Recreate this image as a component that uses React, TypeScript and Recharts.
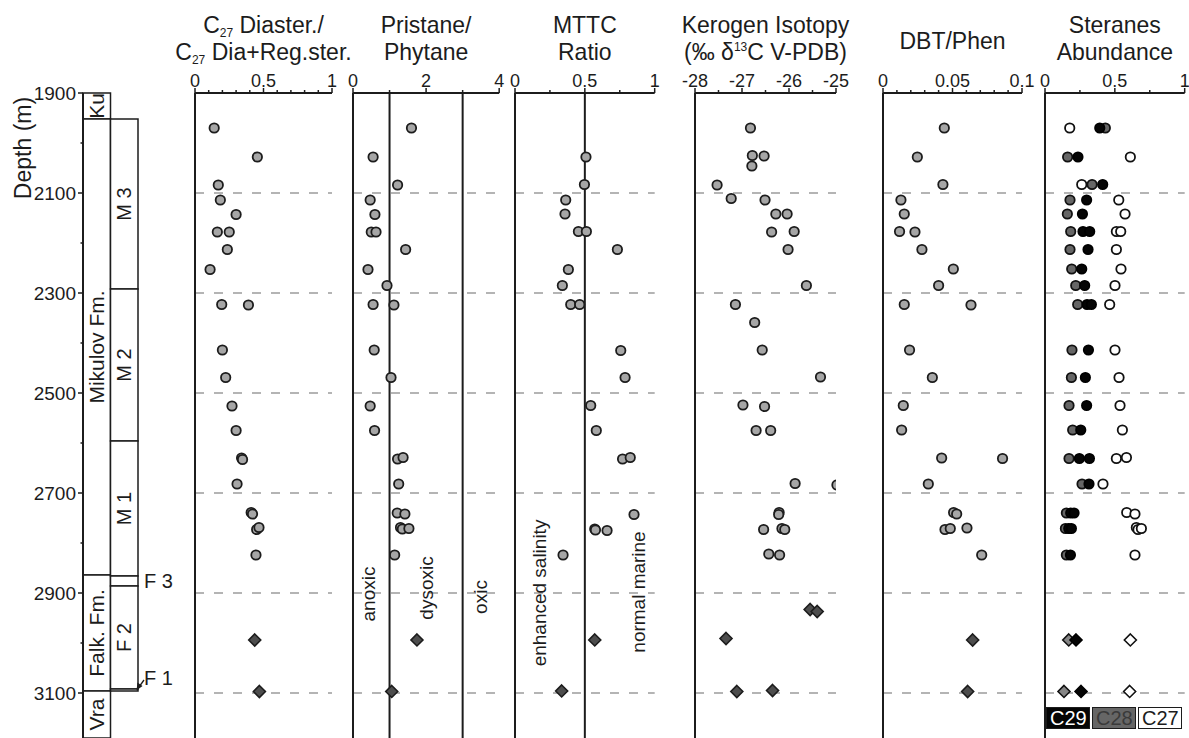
import React from 'react';
import {
  ScatterChart,
  Scatter,
  XAxis,
  YAxis,
  ReferenceLine,
  ReferenceArea,
  ReferenceDot,
  Label,
  Legend,
} from 'recharts';

type Row = [number, number];
type Pt = { depth: number; value: number };

// ---------- depth frame ----------
const DEPTH_DOMAIN: [number, number] = [1900, 3190];
const DEPTH_TICKS = [1900, 2000, 2100, 2200, 2300, 2400, 2500, 2600, 2700, 2800, 2900, 3000, 3100];
const DEPTH_LABELS = [1900, 2100, 2300, 2500, 2700, 2900, 3100];
const GRID_DEPTHS = [2100, 2300, 2500, 2700, 2900, 3100];

// ---------- stratigraphy ----------
const formations = [
  { name: 'Ku', top: 1900, base: 1952 },
  { name: 'Mikulov Fm.', top: 1952, base: 2864 },
  { name: 'Falk. Fm.', top: 2864, base: 3096 },
  { name: 'Vra', top: 3096, base: 3190 },
];
const members = [
  { name: 'M 3', top: 1952, base: 2292 },
  { name: 'M 2', top: 2292, base: 2596 },
  { name: 'M 1', top: 2596, base: 2866 },
  { name: 'F 3', top: 2866, base: 2886 },
  { name: 'F 2', top: 2886, base: 3092 },
  { name: 'F 1', top: 3092, base: 3096 },
];

// ---------- C27 diasteranes / (dia + regular steranes) ----------
const c27DiaMikulov: Row[] = [
  [1970, 0.14], [2028, 0.455], [2084, 0.17], [2114, 0.185], [2143, 0.3],
  [2178, 0.163], [2178, 0.25], [2213, 0.236], [2253, 0.11], [2323, 0.195],
  [2324, 0.39], [2414, 0.2], [2469, 0.224], [2526, 0.27], [2575, 0.3],
  [2630, 0.34], [2633, 0.347], [2682, 0.307], [2739, 0.41], [2742, 0.42],
  [2773, 0.45], [2769, 0.467], [2824, 0.445],
];
const c27DiaFalk: Row[] = [[2994, 0.436], [3097, 0.47]];

// ---------- pristane / phytane ----------
const prPhMikulov: Row[] = [
  [1970, 1.6], [2028, 0.55], [2084, 1.22], [2114, 0.47], [2143, 0.6],
  [2178, 0.5], [2178, 0.63], [2213, 1.44], [2253, 0.41], [2285, 0.93],
  [2323, 0.55], [2324, 1.12], [2414, 0.58], [2469, 1.04], [2526, 0.47],
  [2575, 0.59], [2632, 1.22], [2629, 1.37], [2682, 1.25], [2740, 1.21],
  [2742, 1.42], [2769, 1.3], [2772, 1.35], [2771, 1.53], [2824, 1.14],
];
const prPhFalk: Row[] = [[2994, 1.75], [3097, 1.06]];

// ---------- MTTC ratio ----------
const mttcMikulov: Row[] = [
  [2028, 0.508], [2083, 0.497], [2114, 0.363], [2142, 0.358], [2177, 0.454],
  [2177, 0.511], [2213, 0.733], [2253, 0.382], [2285, 0.339], [2323, 0.399],
  [2323, 0.463], [2415, 0.757], [2469, 0.788], [2525, 0.542], [2575, 0.582],
  [2632, 0.77], [2629, 0.825], [2743, 0.852], [2772, 0.571], [2774, 0.576],
  [2775, 0.659], [2824, 0.344],
];
const mttcFalk: Row[] = [[2994, 0.571], [3096, 0.334]];

// ---------- kerogen d13C ----------
const kerogenMikulov: Row[] = [
  [1970, -26.82], [2025, -26.78], [2026, -26.53], [2046, -26.79], [2084, -27.53],
  [2111, -27.23], [2114, -26.51], [2142, -26.28], [2142, -26.04], [2178, -26.37],
  [2177, -25.89], [2213, -26.02], [2285, -25.63], [2323, -27.14], [2359, -26.73],
  [2414, -26.57], [2468, -25.33], [2524, -26.98], [2527, -26.52], [2575, -26.7],
  [2575, -26.39], [2681, -25.87], [2684, -24.98], [2739, -26.21], [2743, -26.22],
  [2773, -26.54], [2771, -26.15], [2773, -26.09], [2822, -26.43], [2824, -26.2],
];
const kerogenFalk: Row[] = [[2933, -25.55], [2937, -25.4], [2991, -27.34], [3097, -27.11], [3095, -26.35]];

// ---------- DBT / phenanthrene ----------
const dbtPhenMikulov: Row[] = [
  [1970, 0.0441], [2028, 0.0247], [2083, 0.0431], [2114, 0.0129], [2142, 0.0153],
  [2177, 0.0119], [2178, 0.023], [2213, 0.028], [2252, 0.0506], [2285, 0.04],
  [2323, 0.0153], [2324, 0.0633], [2414, 0.0191], [2469, 0.0355], [2525, 0.0146],
  [2574, 0.0134], [2630, 0.0422], [2631, 0.086], [2682, 0.0326], [2739, 0.0508],
  [2742, 0.053], [2773, 0.0446], [2771, 0.0484], [2770, 0.0604], [2824, 0.071],
];
const dbtPhenFalk: Row[] = [[2994, 0.0645], [3097, 0.0609]];

// ---------- regular steranes C27 / C28 / C29 ----------
const c27SterMikulov: Row[] = [
  [1970, 0.177], [2028, 0.611], [2083, 0.263], [2114, 0.528], [2142, 0.573],
  [2177, 0.511], [2177, 0.542], [2213, 0.511], [2252, 0.544], [2285, 0.501],
  [2323, 0.463], [2414, 0.501], [2469, 0.53], [2525, 0.537], [2574, 0.554],
  [2631, 0.511], [2629, 0.583], [2682, 0.415], [2739, 0.585], [2742, 0.644],
  [2769, 0.654], [2773, 0.666], [2771, 0.69], [2824, 0.644],
];
const c28SterMikulov: Row[] = [
  [1970, 0.432], [2028, 0.162], [2083, 0.337], [2114, 0.179], [2142, 0.16],
  [2177, 0.184], [2213, 0.179], [2252, 0.191], [2285, 0.22], [2323, 0.234],
  [2414, 0.193], [2469, 0.189], [2525, 0.172], [2574, 0.198], [2631, 0.172],
  [2682, 0.265], [2740, 0.153], [2771, 0.146], [2824, 0.153],
];
const c29SterMikulov: Row[] = [
  [1970, 0.392], [2028, 0.236], [2083, 0.413], [2114, 0.298], [2142, 0.268],
  [2177, 0.272], [2177, 0.32], [2213, 0.308], [2252, 0.263], [2285, 0.284],
  [2323, 0.301], [2323, 0.332], [2414, 0.311], [2469, 0.289], [2525, 0.298],
  [2574, 0.256], [2631, 0.246], [2631, 0.318], [2682, 0.315], [2740, 0.184],
  [2740, 0.208], [2771, 0.17], [2771, 0.189], [2824, 0.182],
];
const c27SterFalk: Row[] = [[2994, 0.611], [3097, 0.606]];
const c28SterFalk: Row[] = [[2994, 0.17], [3097, 0.136]];
const c29SterFalk: Row[] = [[2994, 0.222], [3097, 0.258]];
const STERANE_LEGEND = ['C29', 'C28', 'C27'];

// ---------- axis ticks ----------
const unitTicks = [0, 0.1, 0.2, 0.3, 0.4, 0.5, 0.6, 0.7, 0.8, 0.9, 1];
const unitLabels = [0, 0.5, 1];
const quarterTicks = [0, 0.25, 0.5, 0.75, 1];
const prPhTicks = [0, 1, 2, 3, 4];
const prPhLabels = [0, 2, 4];
const kerogenTicks = [-28, -27.5, -27, -26.5, -26, -25.5, -25];
const kerogenLabels = [-28, -27, -26, -25];
const dbtTicks = [0, 0.01, 0.02, 0.03, 0.04, 0.05, 0.06, 0.07, 0.08, 0.09, 0.1];
const dbtLabels = [0, 0.05, 0.1];

// ---------- styling / layout ----------
const INK = '#1c1c1c';
const FONT = '"Liberation Sans", Arial, Helvetica, sans-serif';
const PLOT_TOP = 93;
const CHART_H = 738;
const AXIS_H = 30;
const PAD = 25;

const toPts = (rows: Row[]): Pt[] => rows.map(([depth, value]) => ({ depth, value }));

type Seg = { text: string; kind?: 'sub' | 'sup' };
type Mark = 'circle' | 'diamond';
type SeriesDef = { name: string; rows: Row[]; mark: Mark; fill: string; stroke: string; legend?: boolean };
type Note = { text: string; value: number; depth: number };

const renderMark = (mark: Mark, fill: string, stroke: string) => (p: any) => {
  const { cx, cy } = p;
  if (cx == null || cy == null) return <g />;
  if (mark === 'diamond') {
    const h = 6;
    return (
      <path
        d={`M${cx},${cy - h}L${cx + h},${cy}L${cx},${cy + h}L${cx - h},${cy}Z`}
        fill={fill}
        stroke={stroke}
        strokeWidth={1.6}
      />
    );
  }
  return <circle cx={cx} cy={cy} r={4.7} fill={fill} stroke={stroke} strokeWidth={1.8} />;
};

const near = (a: number, list: number[]) => list.some((b) => Math.abs(a - b) < 1e-9);

const topTick = (labels: number[]) => (p: any) => {
  const { x, y, payload } = p;
  const v = payload.value as number;
  const major = near(v, labels);
  return (
    <g>
      <line x1={x} x2={x} y1={y} y2={y - (major ? 5 : 3)} stroke={INK} strokeWidth={1.5} />
      {major && (
        <text x={x} y={y - 6} textAnchor="middle" fontSize={18} fill={INK}>
          {String(v)}
        </text>
      )}
    </g>
  );
};

const titleContent = (lines: Seg[][]) => (p: any) => {
  const vb = p.viewBox || { x: 0, width: 0 };
  const cx = vb.x + vb.width / 2;
  const baselines = lines.length === 1 ? [PLOT_TOP - 44] : [PLOT_TOP - 60, PLOT_TOP - 33];
  return (
    <g>
      {lines.map((segs, i) => {
        let shift = 0;
        return (
          <text key={i} x={cx} y={baselines[i]} textAnchor="middle" fontSize={23} fill={INK}>
            {segs.map((s, j) => {
              const target = s.kind === 'sub' ? 4 : s.kind === 'sup' ? -9 : 0;
              const dy = target - shift;
              shift = target;
              return (
                <tspan key={j} dy={dy} fontSize={s.kind ? 12 : 23}>
                  {s.text}
                </tspan>
              );
            })}
          </text>
        );
      })}
    </g>
  );
};

const steraneLegend = (series: SeriesDef[]) => (p: any) => {
  const shown = (p.payload || []).map((e: any) => e.value);
  const boxes = STERANE_LEGEND.filter((n) => shown.includes(n));
  const text: Record<string, string> = { C29: '#ffffff', C28: '#3a3a3a', C27: INK };
  return (
    <div style={{ display: 'flex', gap: 2, fontFamily: FONT }}>
      {boxes.map((n) => {
        const s = series.find((d) => d.name === n)!;
        return (
          <div
            key={n}
            style={{
              width: 44,
              height: 22,
              boxSizing: 'border-box',
              background: s.fill,
              border: `1.5px solid ${INK}`,
              color: text[n],
              fontSize: 20,
              lineHeight: '20px',
              textAlign: 'center',
            }}
          >
            {n}
          </div>
        );
      })}
    </div>
  );
};

type PanelProps = {
  left: number;
  width: number;
  domain: [number, number];
  ticks: number[];
  labels: number[];
  title: Seg[][];
  series: SeriesDef[];
  bounds?: number[];
  notes?: Note[];
  legend?: boolean;
};

function DepthPanel({ left, width, domain, ticks, labels, title, series, bounds = [], notes = [], legend }: PanelProps) {
  return (
    <div style={{ position: 'absolute', left: left - PAD, top: 0 }}>
      <ScatterChart
        width={width + 2 * PAD}
        height={CHART_H}
        margin={{ top: PLOT_TOP - AXIS_H, right: PAD, bottom: 0, left: PAD }}
      >
        <XAxis
          type="number"
          dataKey="value"
          orientation="top"
          domain={domain}
          ticks={ticks}
          interval={0}
          height={AXIS_H}
          tickSize={0}
          tickMargin={0}
          tickLine={false}
          axisLine={{ stroke: INK, strokeWidth: 2 }}
          tick={topTick(labels)}
          allowDataOverflow
        >
          <Label content={titleContent(title)} />
        </XAxis>
        <YAxis type="number" dataKey="depth" domain={DEPTH_DOMAIN} reversed hide allowDataOverflow />
        {GRID_DEPTHS.map((d) => (
          <ReferenceLine key={`g${d}`} y={d} stroke="#9c9c9c" strokeWidth={1.5} strokeDasharray="9 10" />
        ))}
        {[domain[0], ...bounds].map((v) => (
          <ReferenceLine key={`b${v}`} x={v} stroke={INK} strokeWidth={2} />
        ))}
        {notes.map((n) => (
          <ReferenceDot
            key={n.text}
            x={n.value}
            y={n.depth}
            r={0}
            fill="none"
            stroke="none"
            label={{ value: n.text, position: 'center', angle: -90, fontSize: 19, fill: INK }}
          />
        ))}
        {series.map((s, i) => (
          <Scatter
            key={`${s.name}-${i}`}
            name={s.name}
            data={toPts(s.rows)}
            fill={s.fill}
            legendType={s.legend ? 'circle' : 'none'}
            shape={renderMark(s.mark, s.fill, s.stroke)}
            isAnimationActive={false}
          />
        ))}
        {legend && (
          <Legend
            layout="horizontal"
            verticalAlign="middle"
            align="center"
            wrapperStyle={{ left: PAD + 1, top: 707, width: 150, height: 22 }}
            content={steraneLegend(series)}
          />
        )}
      </ScatterChart>
    </div>
  );
}

const depthTick = (p: any) => {
  const { x, y, payload } = p;
  const v = payload.value as number;
  const major = DEPTH_LABELS.includes(v);
  return (
    <g>
      <line x1={x - (major ? 5 : 2.5)} x2={x} y1={y} y2={y} stroke={INK} strokeWidth={1.5} />
      {major && (
        <text x={x - 7} y={y} dy="0.36em" textAnchor="end" fontSize={19} fill={INK}>
          {v}
        </text>
      )}
    </g>
  );
};

const depthTitle = (p: any) => {
  const vb = p.viewBox || { x: 0, y: 0 };
  const x = vb.x + 31;
  const y = vb.y + 55;
  return (
    <text x={x} y={y} transform={`rotate(-90, ${x}, ${y})`} textAnchor="middle" fontSize={23} fill={INK}>
      Depth (m)
    </text>
  );
};

const f1Marker = (p: any) => {
  const { cx, cy } = p;
  return (
    <g>
      <line x1={cx + 6} y1={cy - 11} x2={cx + 1} y2={cy - 4} stroke={INK} strokeWidth={1.3} />
      <path d={`M${cx - 1.5},${cy - 0.5}L${cx + 4.5},${cy - 5}L${cx - 0.5},${cy - 8.5}Z`} fill={INK} />
      <text x={cx + 6} y={cy - 6} fontSize={20} fill={INK}>
        F 1
      </text>
    </g>
  );
};

function StratColumn() {
  return (
    <div style={{ position: 'absolute', left: 0, top: 0 }}>
      <ScatterChart width={200} height={CHART_H} margin={{ top: PLOT_TOP, right: 7, bottom: 0, left: 0 }}>
        <XAxis type="number" dataKey="value" domain={[0, 4]} hide allowDataOverflow />
        <YAxis
          type="number"
          dataKey="depth"
          domain={DEPTH_DOMAIN}
          reversed
          width={83}
          ticks={DEPTH_TICKS}
          interval={0}
          tickSize={0}
          tickMargin={0}
          tickLine={false}
          axisLine={{ stroke: INK, strokeWidth: 2 }}
          tick={depthTick}
          allowDataOverflow
        >
          <Label content={depthTitle} />
        </YAxis>
        {formations.map((u) => (
          <ReferenceArea
            key={u.name}
            x1={0}
            x2={1}
            y1={u.top}
            y2={u.base}
            fill="#ffffff"
            fillOpacity={1}
            stroke={INK}
            strokeWidth={1.5}
            label={{ value: u.name, position: 'center', angle: -90, fontSize: 21, fill: INK }}
          />
        ))}
        {members.map((u) => (
          <ReferenceArea
            key={u.name}
            x1={1}
            x2={2}
            y1={u.top}
            y2={u.base}
            fill="#ffffff"
            fillOpacity={1}
            stroke={INK}
            strokeWidth={1.5}
            label={
              u.name === 'F 1'
                ? undefined
                : u.name === 'F 3'
                ? { value: u.name, position: 'right', offset: 6, fontSize: 20, fill: INK }
                : { value: u.name, position: 'center', angle: -90, fontSize: 20, fill: INK }
            }
          />
        ))}
        <ReferenceDot x={2} y={3096} r={0} shape={f1Marker} />
      </ScatterChart>
    </div>
  );
}

const GRAY = '#a6a6a6';
const DARK = '#4d4d4d';
const pair = (m: Row[], f: Row[]): SeriesDef[] => [
  { name: 'Mikulov', rows: m, mark: 'circle', fill: GRAY, stroke: INK },
  { name: 'Falkenstein', rows: f, mark: 'diamond', fill: DARK, stroke: INK },
];

const steraneSeries: SeriesDef[] = [
  { name: 'C27', rows: c27SterMikulov, mark: 'circle', fill: '#ffffff', stroke: '#111', legend: true },
  { name: 'C28', rows: c28SterMikulov, mark: 'circle', fill: '#666666', stroke: '#111', legend: true },
  { name: 'C29', rows: c29SterMikulov, mark: 'circle', fill: '#050505', stroke: '#000', legend: true },
  { name: 'C27', rows: c27SterFalk, mark: 'diamond', fill: '#ffffff', stroke: '#111' },
  { name: 'C28', rows: c28SterFalk, mark: 'diamond', fill: '#858585', stroke: '#111' },
  { name: 'C29', rows: c29SterFalk, mark: 'diamond', fill: '#050505', stroke: '#000' },
];

export default function App() {
  return (
    <div
      style={{
        position: 'absolute',
        left: 0,
        top: 0,
        width: 1189,
        height: 738,
        overflow: 'hidden',
        background: '#ffffff',
        fontFamily: FONT,
      }}
    >
      <StratColumn />
      <DepthPanel
        left={195}
        width={137}
        domain={[0, 1]}
        ticks={unitTicks}
        labels={unitLabels}
        title={[
          [{ text: 'C' }, { text: '27', kind: 'sub' }, { text: ' Diaster./' }],
          [{ text: 'C' }, { text: '27', kind: 'sub' }, { text: ' Dia+Reg.ster.' }],
        ]}
        series={pair(c27DiaMikulov, c27DiaFalk)}
      />
      <DepthPanel
        left={353.3}
        width={146.2}
        domain={[0, 4]}
        ticks={prPhTicks}
        labels={prPhLabels}
        title={[[{ text: 'Pristane/' }], [{ text: 'Phytane' }]]}
        bounds={[1, 3]}
        notes={[
          { text: 'anoxic', value: 0.41, depth: 2902 },
          { text: 'dysoxic', value: 2.0, depth: 2890 },
          { text: 'oxic', value: 3.47, depth: 2908 },
        ]}
        series={pair(prPhMikulov, prPhFalk)}
      />
      <DepthPanel
        left={515.3}
        width={139.7}
        domain={[0, 1]}
        ticks={quarterTicks}
        labels={unitLabels}
        title={[[{ text: 'MTTC' }], [{ text: 'Ratio' }]]}
        bounds={[0.5]}
        notes={[
          { text: 'enhanced salinity', value: 0.177, depth: 2900 },
          { text: 'normal marine', value: 0.885, depth: 2898 },
        ]}
        series={pair(mttcMikulov, mttcFalk)}
      />
      <DepthPanel
        left={695}
        width={141}
        domain={[-28, -25]}
        ticks={kerogenTicks}
        labels={kerogenLabels}
        title={[
          [{ text: 'Kerogen Isotopy' }],
          [{ text: '(‰ δ' }, { text: '13', kind: 'sup' }, { text: 'C V-PDB)' }],
        ]}
        series={pair(kerogenMikulov, kerogenFalk)}
      />
      <DepthPanel
        left={882.7}
        width={139}
        domain={[0, 0.1]}
        ticks={dbtTicks}
        labels={dbtLabels}
        title={[[{ text: 'DBT/Phen' }]]}
        series={pair(dbtPhenMikulov, dbtPhenFalk)}
      />
      <DepthPanel
        left={1045.3}
        width={139.7}
        domain={[0, 1]}
        ticks={quarterTicks}
        labels={unitLabels}
        title={[[{ text: 'Steranes' }], [{ text: 'Abundance' }]]}
        series={steraneSeries}
        legend
      />
    </div>
  );
}
